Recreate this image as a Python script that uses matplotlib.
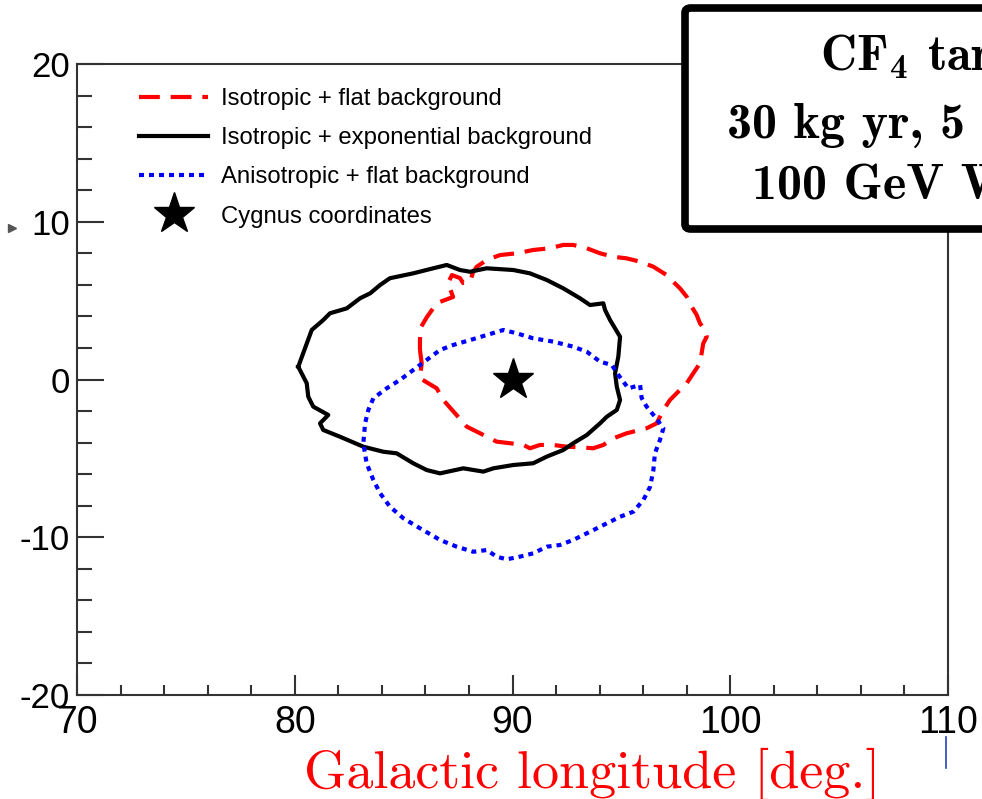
import numpy as np
import matplotlib
matplotlib.use("Agg")
import matplotlib.pyplot as plt
from matplotlib import font_manager
from matplotlib.patches import FancyBboxPatch
from matplotlib.lines import Line2D
from matplotlib.ticker import MultipleLocator

# 1-sigma contours in galactic coordinates (longitude, latitude) [deg]
iso_flat_lon = [85.75, 85.83, 85.75, 86.52, 86.82, 87.36, 87.90, 88.51, 89.27, 89.89,
                90.50, 90.80, 91.26, 91.87, 92.49, 93.10, 93.71, 94.17, 94.63, 95.24,
                96.16, 96.62, 96.93, 97.23, 97.54, 98.00, 98.30, 98.61, 98.76, 98.92,
                98.84, 98.61, 98.46, 98.23, 98.00, 97.69, 97.38, 97.08, 96.47, 95.86,
                95.24, 94.63, 94.02, 93.41, 92.79, 92.33, 91.72, 90.95, 90.19, 89.43,
                88.82, 88.36, 88.19, 88.05, 87.73, 87.59, 87.22, 87.04, 87.27, 86.53,
                86.07, 85.80, 85.75]
iso_flat_lat = [1.87, 1.03, 0.08, -0.56, -1.30, -2.14, -2.99, -3.41, -3.94, -4.04,
                -4.15, -4.36, -4.15, -4.15, -4.26, -4.30, -4.36, -4.15, -3.73, -3.41,
                -3.09, -2.78, -1.93, -1.30, -0.87, -0.24, 0.39, 1.03, 2.29, 2.71,
                3.14, 3.56, 4.09, 4.61, 5.25, 5.78, 6.20, 6.62, 7.15, 7.47,
                7.68, 7.78, 8.00, 8.32, 8.53, 8.53, 8.32, 8.21, 8.00, 7.89,
                7.58, 7.15, 6.81, 6.18, 6.12, 6.43, 6.62, 6.12, 5.23, 4.85,
                3.96, 3.33, 2.50]

iso_exp_lon = [80.16, 80.78, 81.31, 81.62, 82.39, 83.00, 83.46, 83.92, 84.37, 85.44,
               86.36, 86.98, 87.59, 88.05, 88.81, 90.04, 90.80, 91.57, 92.33, 93.10,
               93.56, 94.17, 94.25, 94.48, 94.94, 94.86, 94.71, 94.79, 94.94, 94.79,
               94.33, 94.02, 93.41, 92.79, 92.33, 91.57, 90.95, 90.04, 89.12, 88.66,
               87.74, 86.67, 86.06, 85.44, 84.68, 84.07, 83.15, 82.08, 81.31, 81.16,
               81.54, 80.85, 80.62, 80.55]
iso_exp_lat = [0.81, 3.14, 3.77, 4.20, 4.51, 5.15, 5.46, 5.99, 6.42, 6.73,
               7.05, 7.26, 6.94, 6.83, 7.05, 6.94, 6.73, 6.31, 5.78, 5.15,
               4.72, 4.83, 4.41, 3.77, 2.71, 1.45, 0.39, -0.46, -1.30, -1.93,
               -2.36, -2.78, -3.52, -4.04, -4.47, -4.89, -5.31, -5.42, -5.63, -5.84,
               -5.63, -5.95, -5.74, -5.31, -4.68, -4.58, -4.26, -3.63, -3.20, -2.78,
               -2.25, -1.72, -1.09, -0.24]

aniso_flat_lon = [83.61, 83.38, 83.23, 83.15, 83.30, 83.61, 83.92, 84.37, 84.99, 85.75,
                  86.67, 87.44, 88.20, 88.82, 89.27, 89.73, 90.34, 90.95, 91.57, 92.18,
                  92.79, 93.56, 94.33, 94.94, 95.55, 96.01, 96.32, 96.47, 96.54, 96.77,
                  96.93, 96.54, 96.16, 95.93, 95.86, 95.32, 94.86, 94.56, 94.02, 93.41,
                  92.79, 91.87, 90.95, 90.19, 89.58, 88.82, 88.05, 87.28, 86.67, 86.06,
                  85.44, 84.83, 84.22]
aniso_flat_lat = [-1.19, -1.93, -2.78, -4.04, -5.31, -6.37, -7.21, -8.06, -8.80, -9.43,
                  -10.17, -10.60, -10.92, -10.81, -11.23, -11.40, -11.23, -11.02, -10.60, -10.49,
                  -10.17, -9.65, -9.12, -8.70, -8.38, -7.64, -6.80, -5.74, -4.68, -3.84,
                  -3.09, -2.36, -1.72, -1.17, -0.35, -0.56, 0.29, 0.92, 1.13, 1.76,
                  2.08, 2.40, 2.61, 2.93, 3.14, 2.82, 2.50, 2.19, 1.87, 1.24,
                  0.60, -0.03, -0.56]

cygnus_lon, cygnus_lat = 90.0, 0.0

legend_labels = ["Isotropic + flat background",
                 "Isotropic + exponential background",
                 "Anisotropic + flat background",
                 "Cygnus coordinates"]
box_lines = ["CF$_4$ target",
             "30 kg yr, 5 keV threshold",
             "100 GeV WIMP"]
xlabel = "Galactic longitude [deg.]"


def closed(xs, ys):
    return np.append(xs, xs[0]), np.append(ys, ys[0])


installed = {f.name for f in font_manager.fontManager.ttflist}
sans = "Liberation Sans" if "Liberation Sans" in installed else "DejaVu Sans"
narrow = "Liberation Sans Narrow" if "Liberation Sans Narrow" in installed else sans

plt.rcParams["font.family"] = sans
plt.rcParams["axes.unicode_minus"] = False
# subscripts in the info box in Computer Modern bold
plt.rcParams["mathtext.fontset"] = "custom"
plt.rcParams["mathtext.rm"] = "cmb10"
plt.rcParams["mathtext.it"] = "cmb10"
plt.rcParams["mathtext.bf"] = "cmb10"
plt.rcParams["mathtext.default"] = "rm"

W, H = 982, 799
fig = plt.figure(figsize=(W / 100, H / 100), dpi=100)
ax = fig.add_axes([77 / W, 1 - 695 / H, (948 - 77) / W, (695 - 64) / H])

frame_col = "#333333"
red_line, = ax.plot(*closed(iso_flat_lon, iso_flat_lat), color="#ff0000", lw=3,
                    dashes=(5, 2.6), dash_capstyle="butt")
black_line, = ax.plot(*closed(iso_exp_lon, iso_exp_lat), color="black", lw=3,
                      solid_joinstyle="round")
blue_line, = ax.plot(*closed(aniso_flat_lon, aniso_flat_lat), color="#0000ff", lw=3,
                     dashes=(1.2, 1.2), dash_capstyle="butt")
star, = ax.plot([cygnus_lon], [cygnus_lat], marker="*", ms=31, color="black",
                linestyle="none")

ax.set_xlim(70, 110)
ax.set_ylim(-20, 20)
ax.xaxis.set_major_locator(MultipleLocator(10))
ax.xaxis.set_minor_locator(MultipleLocator(2))
ax.yaxis.set_major_locator(MultipleLocator(10))
ax.yaxis.set_minor_locator(MultipleLocator(2))
ax.tick_params(axis="both", which="both", direction="in", color=frame_col, width=1.5,
               top=False, right=False)
ax.tick_params(axis="x", which="major", length=14.5, pad=7, labelsize=27)
ax.tick_params(axis="x", which="minor", length=7.2)
ax.tick_params(axis="y", which="major", length=19.5, pad=5, labelsize=25)
ax.tick_params(axis="y", which="minor", length=10.8)
for lab in ax.get_xticklabels():
    lab.set_fontfamily(narrow)
for sp in ax.spines.values():
    sp.set_color(frame_col)
    sp.set_linewidth(1.5)

ax.legend([red_line, black_line, blue_line, star], legend_labels,
          loc="upper left", bbox_to_anchor=(139 / W, 1 - 88 / H),
          bbox_transform=fig.transFigure, frameon=False, fontsize=17.2,
          handlelength=2.9, handletextpad=0.55, labelspacing=0.72,
          borderpad=0, borderaxespad=0, markerscale=1.0)

# info box in the top right corner, running past the figure edge
box = FancyBboxPatch((685 / W, 1 - 229 / H), 0.5, (229 - 8) / H,
                     boxstyle="round,pad=0,rounding_size=0.006",
                     transform=fig.transFigure, facecolor="white",
                     edgecolor="black", lw=5.5, zorder=5, clip_on=False)
fig.patches.append(box)
for txt, x0, base in zip(box_lines, [820, 727, 752], [70, 138, 200]):
    fig.text(x0 / W, 1 - base / H, txt, fontsize=36, family="cmb10",
             ha="left", va="baseline", zorder=6)

fig.text(592 / W, 1 - 788 / H, xlabel, color="#ff0000", fontsize=39,
         family="cmr10", ha="center", va="baseline")

# stray marks at the page edges
fig.add_artist(Line2D([946 / W, 946 / W], [1 - 737 / H, 1 - 768 / H],
                      color="#2244bb", lw=1.2))
fig.add_artist(Line2D([12 / W], [1 - 228 / H], marker=">", ms=6,
                      color="#555555", linestyle="none"))

fig.savefig("out.png", dpi=100)
